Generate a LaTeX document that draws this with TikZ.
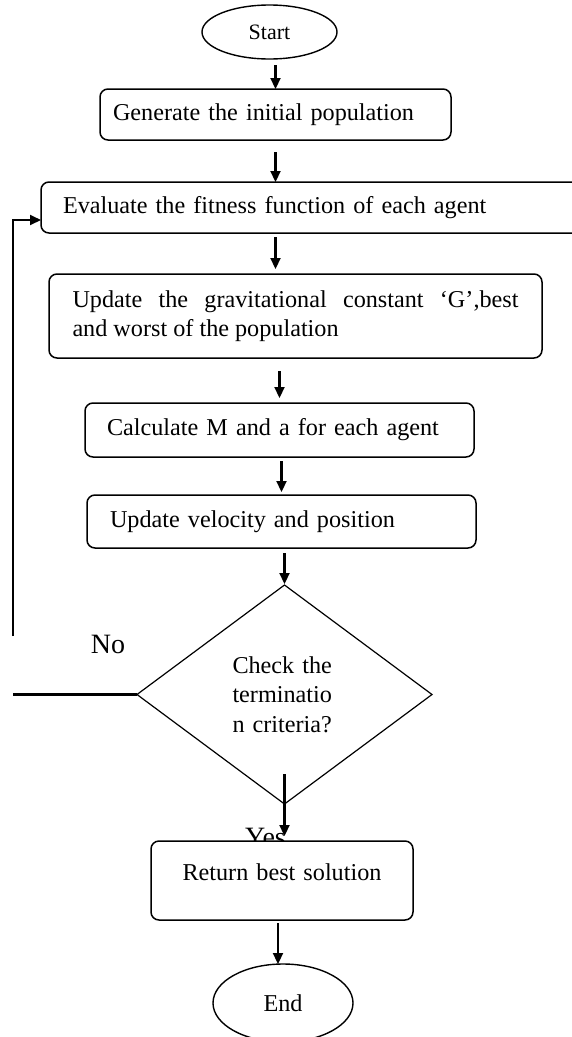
\documentclass[tikz,border=0pt]{standalone}
\usepackage{fontspec}
\setmainfont{Liberation Serif}
\usepackage{tikz}
\usetikzlibrary{shapes,arrows.meta,positioning,calc}

\newcommand{\mainsize}{\fontsize{24.2pt}{28.5pt}\selectfont}
\newcommand{\checksize}{\fontsize{24.2pt}{29.5pt}\selectfont}
\newcommand{\startsize}{\fontsize{22pt}{24pt}\selectfont}
\newcommand{\lblsize}{\fontsize{28pt}{30pt}\selectfont}

\begin{document}
\begin{tikzpicture}[
    x=1pt, y=-1pt,
    box/.style={rectangle, draw, line width=1.5pt, rounded corners=8pt, fill=white, align=left, inner ysep=2pt, outer sep=0pt, font=\mainsize},
    term/.style={ellipse, draw, line width=1.4pt, fill=white, inner sep=1pt, outer sep=0pt, font=\mainsize},
    check/.style={diamond, draw, line width=1.2pt, inner sep=0pt, outer sep=0pt, minimum width=295pt, minimum height=219pt, align=left, text width=104pt, font=\checksize},
    lbl/.style={font=\lblsize, inner sep=0pt},
    arrow/.style={-{Triangle[length=11pt,width=10pt]}, line width=2.2pt},
    loopline/.style={line width=2pt},
]
    \useasboundingbox (0,0) rectangle (571,1037);

    % Steps
    \node[term, minimum width=135pt, minimum height=54pt, font=\startsize] (start) at (269.5,32) {Start};
    \node[box, below=30pt of start, xshift=6pt, inner xsep=13pt, text width=325pt, minimum height=51pt] (gen) {Generate the initial population};
    \node[box, below=42pt of gen, xshift=45pt, inner xsep=22pt, text width=515pt, minimum height=51pt] (eval) {Evaluate the fitness function of each agent};
    \node[box, below=41pt of eval, xshift=-25pt, align=justify, inner xsep=23.5pt, text width=446pt, minimum height=84pt] (upd) {Update the gravitational constant ‘G’,best\linebreak and worst of the population};
    \node[box, below=45pt of upd, xshift=-16pt, inner xsep=22pt, text width=345pt, minimum height=54pt] (calc) {Calculate M and a for each agent};
    \node[box, below=38pt of calc, xshift=2pt, inner xsep=23pt, text width=343pt, minimum height=53pt] (move) {Update velocity and position};
    \node[check, below=37pt of move, xshift=3pt] (chk) {Check the\\terminatio\\n criteria?};

    % Labels
    \node[lbl] (no) at ([xshift=-29pt,yshift=50pt]chk.west) {No};
    \node[lbl, anchor=base] (yes) at ([xshift=-19pt,yshift=-42pt]chk.south) {Yes};

    \node[box, below=37pt of chk, xshift=-2.5pt, align=center, inner xsep=16pt, text width=230pt, minimum height=79pt, text height=12pt, text depth=12pt] (ret) {Return best solution};
    \node[term, below=44pt of ret, xshift=1pt, minimum width=140pt, minimum height=78pt] (finish) {End};

    % Arrows
    \draw[arrow, shorten <=6pt] (gen.north |- start.south) -- (gen.north);
    \draw[arrow, shorten <=12pt] (gen.south) -- (gen.south |- eval.north);
    \draw[arrow, shorten <=4pt, shorten >=5pt] (eval.south -| gen.south) -- (upd.north -| gen.south);
    \draw[arrow, shorten <=13pt, shorten >=5pt] (upd.south -| calc.north) -- (calc.north);
    \draw[arrow, shorten <=4pt, shorten >=3pt] (calc.south -| move.north) -- (move.north);
    \draw[arrow, shorten <=5pt, shorten >=1pt] (move.south -| chk.north) -- (chk.north);
    \draw[arrow, shorten >=5pt] ([yshift=30pt]chk.south) -- (chk.south |- ret.north);
    \draw[arrow, shorten <=3pt] ([xshift=-4pt]ret.south) -- ([xshift=-4pt]ret.south |- finish.north);

    % Loop back
    \coordinate (nobend) at (13,692);
    \coordinate (loopgap) at (13,636);
    \coordinate (loopup) at (13,220);
    \draw[line width=2.8pt] (chk.west) -- (chk.west -| nobend);
    \draw[loopline, -{Triangle[length=11pt,width=10pt]}] (loopgap) -- (loopup) -- (loopup -| eval.west);

\end{tikzpicture}
\end{document}
